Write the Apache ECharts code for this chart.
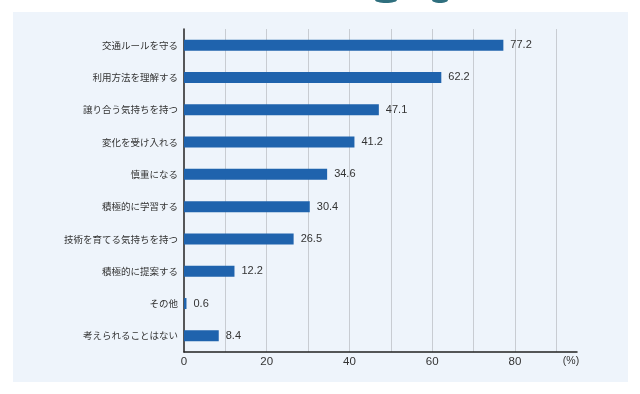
<!DOCTYPE html>
<html><head><meta charset="utf-8">
<script src="https://cdn.jsdelivr.net/npm/echarts@6/dist/echarts.min.js"></script>
<style>html,body{margin:0;padding:0;background:#fff}#c{width:640px;height:394px}</style>
</head><body><div id="c"></div>
<script>
const categories = ['交通ルールを守る','利用方法を理解する','譲り合う気持ちを持つ','変化を受け入れる','慎重になる','積極的に学習する','技術を育てる気持ちを持つ','積極的に提案する','その他','考えられることはない'];
const values = [77.2, 62.2, 47.1, 41.2, 34.6, 30.4, 26.5, 12.2, 0.6, 8.4];
const tickLabels = ['0','20','40','60','80'];
const unitLabel = '(%)';

const chart = echarts.init(document.getElementById('c'), null, {renderer:'canvas'});
const font = '"Liberation Sans", "Noto Sans CJK JP", sans-serif';
chart.setOption({
  animation:false,
  backgroundColor:'#ffffff',
  graphic:[
    {type:'rect', shape:{x:13,y:12,width:615,height:370}, style:{fill:'#eef4fb'}, z:-10},
    {type:'ellipse', shape:{cx:386,cy:0,rx:11,ry:3},  style:{fill:'#2f6f7e'}, z:-5},
    {type:'ellipse', shape:{cx:440,cy:0,rx:8,ry:3}, style:{fill:'#2f6f7e'}, z:-5}
  ],
  grid:{left:184, right:63, top:29, bottom:42, containLabel:false},
  xAxis:{
    type:'value', min:0, max:95, interval:10,
    name: unitLabel, nameLocation:'end', nameGap:-6,
    nameTextStyle:{color:'#333', fontSize:10.5, fontFamily:font, align:'center', verticalAlign:'top', padding:[4,0,0,0]},
    axisLine:{show:true, lineStyle:{color:'#222', width:1.5}},
    axisTick:{show:false},
    axisLabel:{color:'#333', fontSize:11.5, fontFamily:font, margin:4, showMaxLabel:false,
      formatter:function(v){ const s=String(v); return tickLabels.indexOf(s)>=0 ? s : ''; }},
    splitLine:{show:true, showMinLine:false, showMaxLine:false, lineStyle:{color:'#c8ccd2', width:1}}
  },
  yAxis:{
    type:'category', data:categories, inverse:true,
    axisLine:{show:true, lineStyle:{color:'#222', width:1.5}},
    axisTick:{show:false},
    axisLabel:{color:'#333', fontSize:9.5, fontFamily:'"Noto Sans CJK JP", sans-serif', margin:6},
    splitLine:{show:false}
  },
  series:[{
    type:'bar', data:values, barWidth:11,
    itemStyle:{color:'#1f63ad'},
    label:{show:true, position:'right', distance:7, color:'#333', fontSize:11, fontFamily:font,
      formatter:function(p){return p.value.toFixed(1);}}
  }]
});
</script></body></html>
